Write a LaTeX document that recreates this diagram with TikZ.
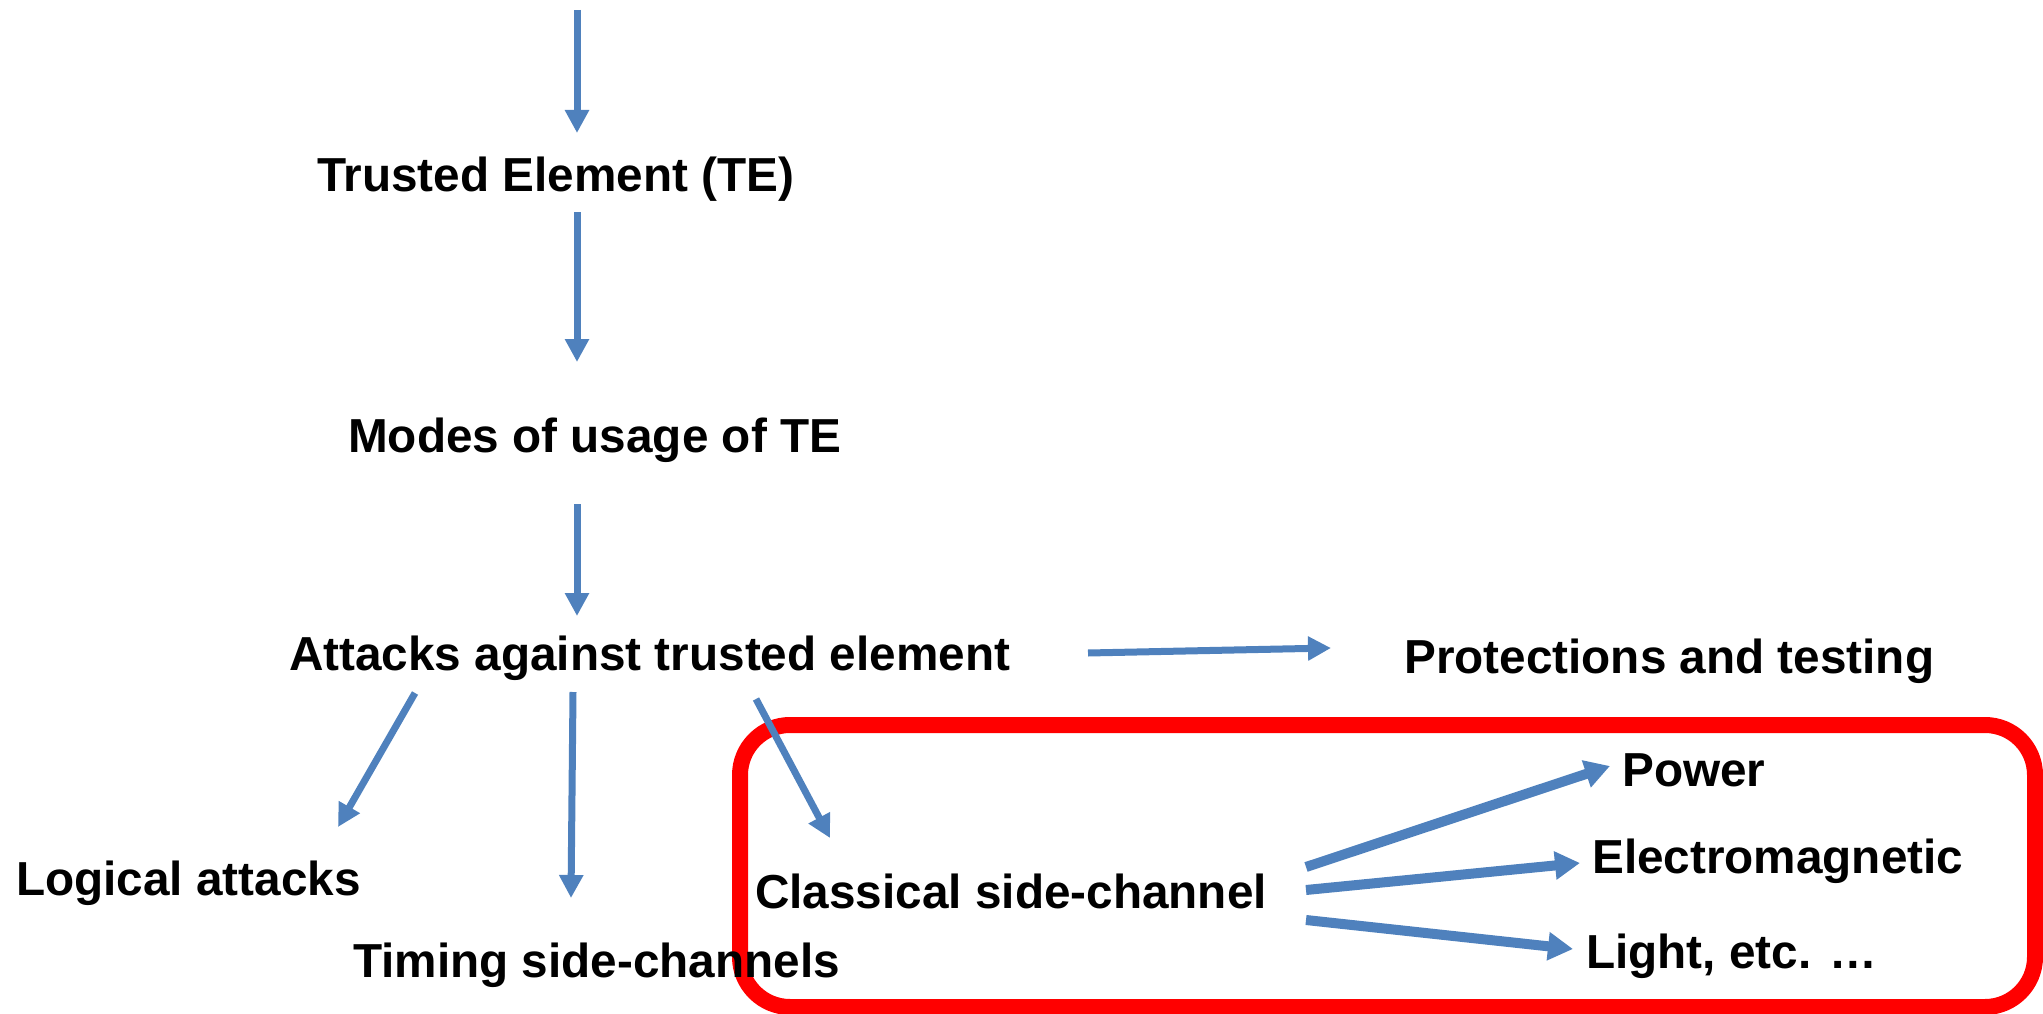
\documentclass[tikz,border=0pt]{standalone}
\usepackage{fontspec}
\setmainfont{Liberation Sans}
\usetikzlibrary{arrows.meta}
\definecolor{arrowblue}{HTML}{4F81BD}
\definecolor{framered}{HTML}{FF0000}
\begin{document}
\begin{tikzpicture}[x=1pt,y=-1pt,
  lbl/.style={font=\fontsize{47.7}{57}\selectfont\bfseries, inner sep=0pt, anchor=base west},
  arr/.style={draw=arrowblue, line width=7pt, -{Triangle[length=23pt,width=23pt]}},
  wide arr/.style={draw=arrowblue, line width=10pt, -{Triangle[length=25pt,width=27pt]}},
  frame/.style={draw=framered, line width=16pt, rounded corners=50pt}]
\useasboundingbox (0,0) rectangle (2043,1014);

% frame around the classical side-channel branch
\draw[frame] (740,725) rectangle (2035,1007);

% labels
\node[lbl] (te)      at (317,191) {Trusted Element (TE)};
\node[lbl] (modes)   at (348,452) {Modes of usage of TE};
\node[lbl] (attacks) at (289,670) {Attacks against trusted element};
\node[lbl] (prot)    at (1404,673) {Protections and testing};
\node[lbl] (logical) at (16,895) {Logical attacks};
\node[lbl] (timing)  at (353,977) {Timing side-channels};
\node[lbl] (classic) at (755,908) {Classical side-channel};
\node[lbl] (power)   at (1622,786) {Power};
\node[lbl] (em)      at (1592,873) {Electromagnetic};
\node[lbl] (light)   at (1586,968) {Light, etc. \ldots};

% connector end points
\coordinate (top)      at (577,10);
\coordinate (te-in)    at (577,133);
\coordinate (te-out)   at (577,212);
\coordinate (modes-in) at (577,362);
\coordinate (modes-out) at (577,504);
\coordinate (att-in)   at (577,616);
\coordinate (att-r)    at (1088,653);
\coordinate (prot-in)  at (1331,648);
\coordinate (att-l)    at (415,693);
\coordinate (log-in)   at (338,827);
\coordinate (att-m)    at (573,692);
\coordinate (tim-in)   at (571,898);
\coordinate (att-c)    at (756,699);
\coordinate (cls-in)   at (830,838);
\coordinate (cls-a)    at (1306,867);
\coordinate (cls-b)    at (1306,890);
\coordinate (cls-c)    at (1306,920);
\coordinate (pow-in)   at (1610,766);
\coordinate (em-in)    at (1580,863);
\coordinate (lig-in)   at (1573,949);

% connectors
\draw[arr] (top) -- (te-in);
\draw[arr] (te-out) -- (modes-in);
\draw[arr] (modes-out) -- (att-in);
\draw[arr] (att-r) -- (prot-in);
\draw[arr] (att-l) -- (log-in);
\draw[arr] (att-m) -- (tim-in);
\draw[arr] (att-c) -- (cls-in);
\draw[wide arr] (cls-a) -- (pow-in);
\draw[wide arr] (cls-b) -- (em-in);
\draw[wide arr] (cls-c) -- (lig-in);
\end{tikzpicture}
\end{document}
